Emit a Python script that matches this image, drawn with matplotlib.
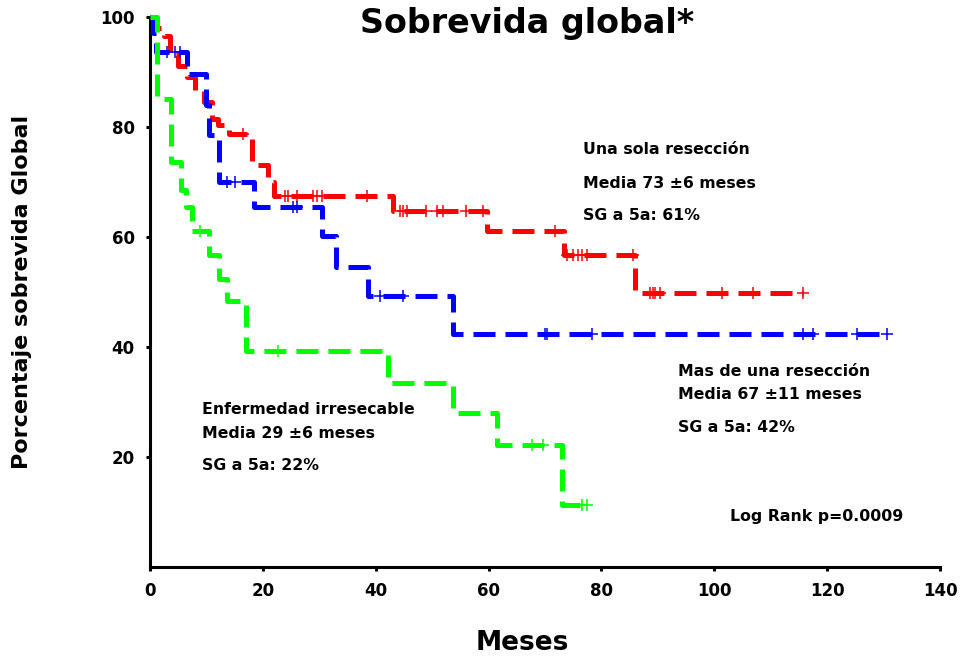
import numpy as np
import matplotlib
matplotlib.use("Agg")
import matplotlib.pyplot as plt

plt.rcParams['font.family'] = ['DejaVu Sans']
plt.rcParams['font.weight'] = 'bold'

# Kaplan-Meier steps (months, % survival)
red_t = [0, 1, 2.5, 3.5, 5, 6.5, 8, 9.5, 11, 12, 14, 18, 21, 22, 43, 59.7, 73.3, 86, 115.7]
red_s = [100, 98, 96.5, 93, 91, 89, 86.5, 84.5, 81.5, 80.3, 78.8, 73, 70, 67.4, 64.7, 61, 56.8, 49.9, 49.9]
red_cens = [16.5, 24, 24.5, 26, 28.9, 29.6, 30.5, 38.5, 44.3, 44.8, 45.5, 49, 50.9, 52, 56, 59,
            71.8, 73.9, 75, 75.8, 76.5, 77.4, 85.6, 88.6, 89.1, 89.5, 90.4, 101.4, 106.9, 115.7]

blue_t = [0, 0.5, 1, 6.5, 10, 10.5, 12.3, 18.5, 30.5, 33, 38.6, 53.7, 130.6]
blue_s = [100, 97, 93.6, 89.6, 84, 78.5, 70, 65.4, 60.1, 54.5, 49.2, 42.3, 42.3]
blue_cens = [3, 4.5, 5.3, 13.6, 15, 25.4, 26, 40.8, 44.8, 70, 70.3, 78.3, 115.7, 117.5, 125.3, 130.6]

green_t = [0, 1.3, 3.7, 5.5, 6.3, 7.5, 10.5, 12.2, 13.7, 17, 42.2, 53.7, 61.5, 73, 77.4]
green_s = [100, 85, 73.6, 68.5, 65.5, 61, 56.8, 52.3, 48.3, 39.2, 33.5, 28, 22.2, 11.3, 11.3]
green_cens = [8.9, 22.7, 67.7, 69.6, 76.6, 77.4]

x_ticks = [0, 20, 40, 60, 80, 100, 120, 140]
y_ticks = [20, 40, 60, 80, 100]


def step_value(t, s, x):
    # survival value at time x for a right-continuous step function
    idx = np.searchsorted(t, x, side='right') - 1
    return np.asarray(s)[np.clip(idx, 0, len(s) - 1)]


fig = plt.figure(figsize=(9.67, 6.64), dpi=100)
ax = fig.add_axes([0.1551, 0.1461, 0.8170, 0.8283])

curves = [
    (red_t, red_s, red_cens, '#ff0000'),
    (blue_t, blue_s, blue_cens, '#0000ff'),
    (green_t, green_s, green_cens, '#00ff00'),
]
for t, s, cens, col in curves:
    ax.plot(t, s, drawstyle='steps-post', color=col, lw=3.6,
            dashes=(4.4, 2.0), clip_on=False, zorder=3)
    ax.plot(cens, step_value(t, s, cens), linestyle='none', marker='+',
            color=col, markersize=8, markeredgewidth=1.1, clip_on=False, zorder=4)

ax.set_xlim(0, 140)
ax.set_ylim(0, 100)
ax.set_xticks(x_ticks)
ax.set_yticks(y_ticks)
ax.spines['top'].set_visible(False)
ax.spines['right'].set_visible(False)
for sp in ['left', 'bottom']:
    ax.spines[sp].set_linewidth(2.2)
ax.tick_params(axis='both', length=3, width=2.2, labelsize=12)
ax.tick_params(axis='y', pad=8)
ax.tick_params(axis='x', pad=8)
for lab in ax.get_xticklabels() + ax.get_yticklabels():
    lab.set_fontweight('bold')

ax.set_ylabel('Porcentaje sobrevida Global', fontsize=16, fontweight='bold')
ax.yaxis.set_label_coords(-0.149, 0.5)

fig.text(522 / 967, 1 - 643 / 664, 'Meses', fontsize=19, fontweight='bold',
         ha='center', va='center')
fig.text(527 / 967, 1 - 33 / 664, 'Sobrevida global*', fontsize=24,
         fontweight='bold', ha='center', va='baseline')

notes = [
    (583, 150, 'Una sola resección'),
    (583, 183, 'Media 73 ±6 meses'),
    (583, 215, 'SG a 5a: 61%'),
    (678, 372, 'Mas de una resección'),
    (678, 394, 'Media 67 ±11 meses'),
    (678, 428, 'SG a 5a: 42%'),
    (202, 410, 'Enfermedad irresecable'),
    (202, 433, 'Media 29 ±6 meses'),
    (202, 465, 'SG a 5a: 22%'),
    (730, 517, 'Log Rank p=0.0009'),
]
for px, py, txt in notes:
    fig.text(px / 967, 1 - py / 664, txt, fontsize=11.3, fontweight='bold',
             ha='left', va='center')

fig.savefig('out.png', dpi=100)
